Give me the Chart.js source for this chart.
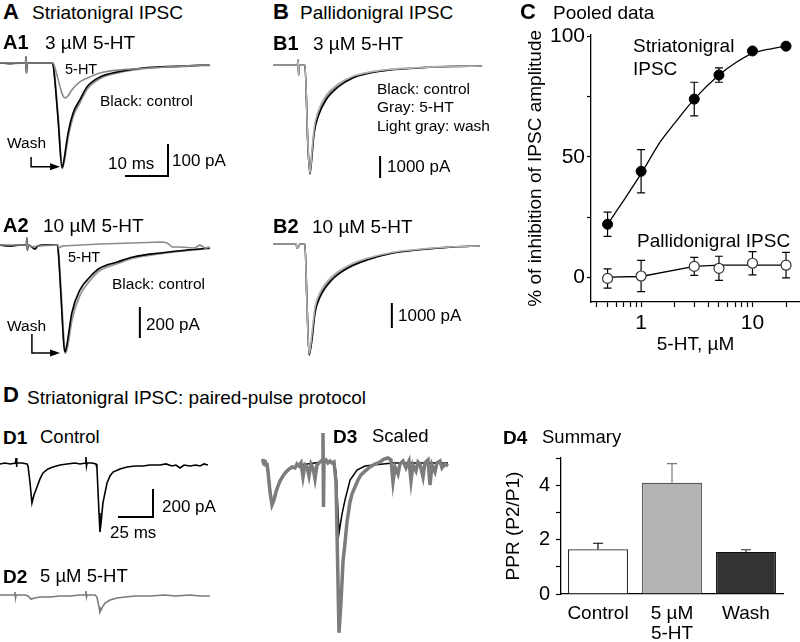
<!DOCTYPE html>
<html>
<head>
<meta charset="utf-8">
<script src="https://cdn.jsdelivr.net/npm/chart.js@4.4.1/dist/chart.umd.min.js"></script>
<style>
body { margin: 0; background: #fff; }
#fig { position: relative; width: 800px; height: 642px; overflow: hidden; font-family: "Liberation Sans", Arial, sans-serif; color: #000; }
#fig canvas { position: absolute; }
#fig .lbl { position: absolute; white-space: nowrap; line-height: 1; transform: translateY(-50%); }
</style>
</head>
<body>
<div id="fig"></div>
<script>
// ---- A: striatonigral IPSC traces (ms, pA) ----
const a1T    = [0, 2.4, 4.8, 6.1, 6.2, 6.3, 6.4, 9.5, 12.4, 12.7, 13.8, 14.8, 15.2, 16.2, 17.4, 19.0, 20.7, 23.8, 27.9, 34.0, 42.9, 50.0];
const a1Ctrl = [0, -2, 0, 0, 19, -32, 0, 0, 0, -10, -177, -339, -316, -226, -161, -119, -77, -45, -29, -16, -10, -6];
const a1Wash = [0, -1, 0, 0, 19, -32, 0, 0, 0, -8, -168, -336, -322, -240, -172, -128, -84, -50, -32, -18, -11, -7];
const a1HtT  = [0, 6.1, 6.2, 6.3, 6.4, 12.6, 13.3, 14.3, 15.0, 15.5, 16.2, 17.1, 19.0, 21.4, 23.8, 27.9, 35.7, 43.6, 50.0];
const a1Ht   = [0, 0, 19, -32, 0, 0, -26, -77, -106, -113, -106, -87, -61, -45, -32, -23, -16, -10, -6];

const a2T    = [0, 2.4, 4.8, 6.3, 6.4, 6.5, 6.7, 7.6, 8.3, 9.0, 10.7, 13.6, 13.8, 14.5, 15.2, 15.5, 16.0, 17.1, 19.0, 21.4, 23.8, 27.9, 31.7, 38.1, 44.5, 50.0];
const a2Ctrl = [0, -7, 0, 0, 48, -35, 0, -14, -28, -7, 0, 0, -21, -345, -690, -738, -676, -469, -311, -221, -159, -117, -83, -55, -35, -21];
const a2Wash = [0, -7, 0, 0, 48, -35, 0, -14, -28, -7, 0, 0, -14, -300, -660, -745, -712, -520, -348, -246, -176, -128, -90, -60, -38, -22];
const a2HtT  = [0, 6.3, 6.4, 6.5, 6.7, 7.6, 9.0, 13.8, 14.0, 14.8, 23.8, 38.8, 39.8, 41.0, 42.9, 46.4, 47.6, 48.8, 50.0];
const a2Ht   = [0, 0, 48, -35, 0, -14, -7, 0, -21, -7, 7, 21, 14, -14, -14, -21, 0, -21, -14];

// ---- B: pallidonigral IPSC traces ----
const b1T    = [0, 4.0, 5.8, 6.0, 6.1, 6.2, 7.4, 7.6, 8.3, 8.8, 9.3, 9.8, 10.7, 12.6, 15.5, 19.0, 23.1, 27.9, 34.3, 42.1, 49.8];
const b1Ctrl = [0, 0, 0, 250, -500, 0, 0, 0, -4000, -5450, -4500, -3400, -2600, -1750, -1100, -650, -400, -250, -150, -75, -50];
const b1Ht   = [0, 0, 0, 250, -500, 0, 0, 0, -3950, -5420, -4350, -3250, -2450, -1620, -1010, -600, -370, -230, -140, -70, -48];
const b1Wash = [0, 0, 0, 250, -500, 0, 0, 0, -3900, -5400, -4250, -3150, -2350, -1520, -950, -560, -350, -220, -135, -70, -48];

const b2T    = [0, 5.5, 5.7, 6.2, 6.4, 7.6, 8.1, 8.6, 9.3, 10.0, 11.2, 14.0, 18.3, 22.4, 28.6, 34.3, 42.9, 49.3];
const b2Ctrl = [0, 0, -174, -87, 0, 0, -2610, -4830, -4130, -3000, -2305, -1565, -1000, -696, -391, -261, -130, -87];
const b2Ht   = [0, 0, -174, -87, 0, 0, -2650, -4800, -3950, -2850, -2180, -1470, -940, -650, -370, -250, -125, -85];
const b2Wash = [0, 0, -174, -87, 0, 0, -2700, -4780, -3850, -2750, -2100, -1420, -900, -620, -355, -240, -120, -85];

// ---- C: pooled data ----
const conc     = [0.5, 1, 3, 5, 10, 20];
const striMean = [22, 44, 74, 84, 94, 96];
const striErr  = [5, 9, 7, 3, 1, 1];
const pallMean = [-0.5, 0.5, 4.5, 3.7, 5.8, 5];
const pallErr  = [4, 6.5, 3.7, 5, 4.8, 5.3];
const fitStriX = [0.5, 0.7, 1, 1.5, 2, 3, 5, 7, 10, 15, 20];
const fitStriY = [22, 32, 43, 56.5, 64, 74, 84, 89, 93, 95, 96];
const fitPallX = [0.5, 1, 3, 5, 10, 20];
const fitPallY = [0, 0.3, 4.5, 5, 5, 5];
const cTicksX  = [0.4, 0.5, 0.6, 0.7, 0.8, 0.9, 1, 2, 3, 4, 5, 6, 7, 8, 9, 10, 20];
const cLabelsX = [1, 10];
const cTicksY  = [0, 25, 50, 75, 100];
const cLabelsY = [0, 50, 100];

// ---- D: paired-pulse ----
const d1T    = [0, 3.7, 7.4, 11.4, 11.8, 12.1, 12.5, 16.2, 19.9, 20.6, 22.1, 23.5, 25.0, 27.2, 29.4, 31.6, 35.3, 39.0, 44.1, 49.3, 55.1, 58.8, 62.9, 63.2, 63.6, 64.0, 67.6, 70.6, 71.3, 72.8, 73.5, 74.3, 75.7, 78.7, 80.9, 83.1, 88.2, 93.4, 99.3, 105.1, 110.3, 117.6, 122.1, 126.5, 129.4, 132.4, 135.3, 139.7, 144.1, 147.1, 150.0, 152.9];
const d1Ctrl = [-7, 0, -7, 0, 37, -30, 0, 0, -7, -22, -148, -296, -237, -178, -118, -74, -44, -30, -15, -7, 0, -7, 0, 44, -22, 0, 0, -7, -37, -370, -511, -444, -296, -148, -96, -67, -44, -30, -22, -22, -15, -15, -7, -22, -15, -37, -15, -22, -15, -22, -7, -15];
const d2T    = [0, 5.9, 10.7, 11.0, 11.4, 11.8, 18.4, 20.6, 22.8, 25.7, 29.4, 36.8, 44.1, 51.5, 58.8, 62.9, 63.2, 63.6, 64.0, 69.9, 71.3, 72.8, 73.5, 75.0, 77.2, 80.9, 86.0, 91.9, 99.3, 110.3, 121.3, 128.7, 139.7, 147.1, 154.4];
const d2Ht   = [0, 0, 0, 22, -22, 0, 0, -7, -30, -22, -15, -15, -7, -7, 0, 0, 30, -15, 0, 0, -15, -89, -126, -96, -59, -37, -22, -15, -7, -7, 0, -7, 0, -7, -7];
const d3HtT  = [5.15, 5.88, 6.62, 7.35, 8.09, 8.82, 9.56, 11.03, 12.5, 13.97, 15.44, 16.91, 18.38, 20.59, 22.79, 25.0, 27.21, 29.41, 30.88, 32.35,
                33.82, 35.29, 36.76, 38.24, 39.71, 41.18, 42.65, 44.12, 45.59, 47.06, 48.53, 49.71, 50.0, 50.37, 50.74, 52.21, 53.68, 55.15, 56.62, 58.09,
                59.56, 61.76, 63.24, 64.71, 66.18, 67.65, 69.85, 71.32, 73.53, 75.74, 77.94, 80.88, 84.56, 88.24, 91.91, 94.85, 97.79, 100.0, 101.47, 102.94,
                105.15, 106.62, 108.82, 111.03, 113.24, 114.71, 116.18, 118.38, 119.85, 121.32, 123.53, 125.0, 127.21, 128.68, 130.15, 132.35, 133.82, 136.03, 137.5, 139.71, 141.91];
const d3Ht   = [0, 22, -15, 15, -22, -7, -74, -222, -318, -281, -222, -178, -141, -104, -74, -52, -37, -44, -15, -30,
                -7, -111, -22, -37, -104, -15, -44, -126, -22, -7, 7, 0, 215, -333, 0, 15, -7, 7, -7, 0,
                -148, -1265, -1036, -740, -599, -444, -296, -237, -185, -133, -96, -67, -37, -15, 0, 22, 30, 15, -148, -37,
                -89, -15, 7, -44, 7, -141, -22, -67, 0, -15, -111, -7, 15, -170, -22, -74, -7, 7, -44, -15, -30];
const d3CtrlT = [5.1, 9.6, 12.5, 15.4, 19.9, 25.7, 33.1, 49.3, 58.1, 59.6, 61.8, 64.0, 66.2, 69.9, 75.0, 80.9, 86.8, 101.5, 141.9];
const d3Ctrl  = [0, -44, -318, -207, -111, -52, -22, 0, 0, -74, -525, -385, -281, -133, -59, -30, -22, -7, -7];

const pprLabels = ['Control', ['5 µM', '5-HT'], 'Wash'];
const pprMean   = [1.65, 4.1, 1.55];
const pprErr    = [0.22, 0.7, 0.08];
const pprTicks  = [0, 1, 2, 3, 4, 5];
const pprLabelsY = [0, 2, 4];

const FONT = '"Liberation Sans", Arial, sans-serif';
Chart.defaults.font.family = FONT;
Chart.defaults.color = '#000';
Chart.defaults.animation = false;

const fig = document.getElementById('fig');

function addCanvas(left, top, w, h) {
  const c = document.createElement('canvas');
  c.width = w; c.height = h;
  c.style.left = left + 'px'; c.style.top = top + 'px';
  c.style.width = w + 'px'; c.style.height = h + 'px';
  fig.appendChild(c);
  return c;
}

function pts(xs, ys) { return xs.map((x, i) => ({ x: x, y: ys[i] })); }

// scale bars and the "Wash" arrow, placed in data units
function overlay(spec) {
  return {
    id: 'overlay',
    afterDatasetsDraw(chart) {
      const ctx = chart.ctx, sx = chart.scales.x, sy = chart.scales.y;
      const X = v => sx.getPixelForValue(v), Y = v => sy.getPixelForValue(v);
      ctx.save();
      ctx.strokeStyle = '#000'; ctx.fillStyle = '#000'; ctx.lineCap = 'square';
      (spec.lines || []).forEach(l => {
        ctx.lineWidth = 2;
        ctx.beginPath(); ctx.moveTo(X(l[0]), Y(l[1])); ctx.lineTo(X(l[2]), Y(l[3])); ctx.stroke();
      });
      if (spec.arrow) {
        const a = spec.arrow;
        const px = X(a[0]), py = Y(a[2]), tip = X(a[3]);
        ctx.lineWidth = 1.5; ctx.lineCap = 'butt';
        ctx.beginPath(); ctx.moveTo(px, Y(a[1])); ctx.lineTo(px, py); ctx.lineTo(tip - 8, py); ctx.stroke();
        ctx.beginPath(); ctx.moveTo(tip, py); ctx.lineTo(tip - 10, py - 3.5); ctx.lineTo(tip - 10, py + 3.5); ctx.closePath(); ctx.fill();
      }
      ctx.restore();
    }
  };
}

function traceChart(box, xr, yr, series, spec) {
  const cv = addCanvas(box[0], box[1], box[2], box[3]);
  return new Chart(cv, {
    type: 'line',
    data: {
      datasets: series.map(s => ({
        data: pts(s.t, s.v),
        borderColor: s.color,
        borderWidth: s.w,
        pointRadius: 0,
        cubicInterpolationMode: s.smooth ? 'monotone' : 'default',
        tension: 0,
        clip: false
      }))
    },
    options: {
      responsive: false,
      layout: { padding: 0, autoPadding: false },
      plugins: { legend: { display: false }, tooltip: { enabled: false } },
      scales: {
        x: { type: 'linear', display: false, min: xr[0], max: xr[1] },
        y: { type: 'linear', display: false, min: yr[0], max: yr[1] }
      }
    },
    plugins: [overlay(spec || {})]
  });
}

// A1 (first dataset is drawn on top)
traceChart([0, 50, 240, 135], [0, 57.14], [-393.5, 41.9], [
  { t: a1HtT, v: a1Ht, color: '#8a8a8a', w: 1.6, smooth: true },
  { t: a1T, v: a1Ctrl, color: '#000', w: 1.6, smooth: true },
  { t: a1T, v: a1Wash, color: '#8f8f8f', w: 2, smooth: true }
], { lines: [[30, -364.5, 40, -364.5], [40, -364.5, 40, -264.5]], arrow: [7.4, -303, -335, 14.3] });

// A2
traceChart([0, 230, 240, 130], [0, 57.14], [-793.1, 103.4], [
  { t: a2HtT, v: a2Ht, color: '#8a8a8a', w: 1.6, smooth: false },
  { t: a2T, v: a2Ctrl, color: '#000', w: 1.6, smooth: true },
  { t: a2T, v: a2Wash, color: '#9a9a9a', w: 2, smooth: true }
], { lines: [[33.3, -634.5, 33.3, -434.5]], arrow: [7.6, -614, -745, 14.3] });

// B1
traceChart([265, 50, 220, 135], [-1.905, 50.48], [-6000, 750], [
  { t: b1T, v: b1Wash, color: '#b4b4b4', w: 1.6, smooth: true },
  { t: b1T, v: b1Ctrl, color: '#000', w: 1.6, smooth: true },
  { t: b1T, v: b1Ht, color: '#808080', w: 1.6, smooth: true }
], { lines: [[25.5, -5600, 25.5, -4600]] });

// B2
traceChart([265, 230, 220, 135], [-1.905, 50.48], [-5260.9, 608.7], [
  { t: b2T, v: b2Wash, color: '#b4b4b4', w: 1.6, smooth: true },
  { t: b2T, v: b2Ctrl, color: '#000', w: 1.6, smooth: true },
  { t: b2T, v: b2Ht, color: '#808080', w: 1.6, smooth: true }
], { lines: [[28.3, -3609, 28.3, -2609]] });

// D1, D2, D3
traceChart([0, 450, 215, 90], [0, 158.1], [-570.4, 96.3], [
  { t: d1T, v: d1Ctrl, color: '#000', w: 1.6, smooth: false }
], { lines: [[87.5, -400, 112.5, -400], [112.5, -400, 112.5, -200]] });

traceChart([0, 585, 215, 40], [0, 158.1], [-222.2, 74.1], [
  { t: d2T, v: d2Ht, color: '#7a7a7a', w: 1.6, smooth: false }
]);

traceChart([255, 425, 200, 217], [0, 147.06], [-1333.3, 274.1], [
  { t: d3HtT, v: d3Ht, color: '#7c7c7c', w: 3.5, smooth: false },
  { t: d3CtrlT, v: d3Ctrl, color: '#000', w: 1.5, smooth: false }
]);

// C: pooled dose-response
const cvC = addCanvas(520, 20, 280, 345);
new Chart(cvC, {
  type: 'line',
  data: {
    datasets: [
      { data: pts(conc, striMean), showLine: false, pointRadius: 5, pointBackgroundColor: '#000', pointBorderColor: '#000' },
      { data: pts(conc, pallMean), showLine: false, pointRadius: 5, pointBackgroundColor: '#fff', pointBorderColor: '#333', pointBorderWidth: 1.2 },
      { data: pts(fitStriX, fitStriY), borderColor: '#000', borderWidth: 1.3, pointRadius: 0, cubicInterpolationMode: 'monotone' },
      { data: pts(fitPallX, fitPallY), borderColor: '#000', borderWidth: 1.3, pointRadius: 0 }
    ]
  },
  options: {
    responsive: false,
    layout: { padding: { top: 13, right: 0, left: 0, bottom: 0 }, autoPadding: false },
    plugins: { legend: { display: false }, tooltip: { enabled: false } },
    scales: {
      x: {
        type: 'logarithmic', min: 0.355, max: 26.7,
        afterBuildTicks: s => { s.ticks = cTicksX.map(v => ({ value: v })); },
        afterFit: s => { s.height = 63; },
        grid: { drawOnChartArea: false, tickLength: 5, tickColor: '#000', tickWidth: 1.2 },
        border: { color: '#000', width: 1.3 },
        ticks: { autoSkip: false, maxRotation: 0, padding: 4, font: { size: 21 },
                 callback: v => cLabelsX.includes(v) ? String(v) : '' },
        title: { display: true, text: '5-HT, µM', font: { size: 19 }, padding: { top: 0, bottom: 9 } }
      },
      y: {
        min: -10.3, max: 100.8,
        afterBuildTicks: s => { s.ticks = cTicksY.map(v => ({ value: v })); },
        afterFit: s => { s.width = 71; },
        grid: { drawOnChartArea: false, tickLength: 4, tickColor: '#000', tickWidth: 1.2 },
        border: { color: '#000', width: 1.3 },
        ticks: { padding: 2, font: { size: 21 },
                 callback: v => cLabelsY.includes(v) ? String(v) : '' },
        title: { display: true, text: '% of inhibition of IPSC amplitude', font: { size: 19 }, padding: { top: 4, bottom: 0 } }
      }
    }
  },
  plugins: [{
    id: 'errC',
    beforeDatasetsDraw(chart) {
      const ctx = chart.ctx, sx = chart.scales.x, sy = chart.scales.y;
      ctx.save();
      ctx.strokeStyle = '#000'; ctx.lineWidth = 1.2;
      [[striMean, striErr], [pallMean, pallErr]].forEach(([m, e]) => {
        conc.forEach((c, i) => {
          const px = sx.getPixelForValue(c);
          const t = sy.getPixelForValue(m[i] + e[i]), b = sy.getPixelForValue(m[i] - e[i]);
          ctx.beginPath();
          ctx.moveTo(px, t); ctx.lineTo(px, b);
          ctx.moveTo(px - 4, t); ctx.lineTo(px + 4, t);
          ctx.moveTo(px - 4, b); ctx.lineTo(px + 4, b);
          ctx.stroke();
        });
      });
      ctx.restore();
    }
  }]
});

// D4: summary bars
const cvD4 = addCanvas(500, 440, 300, 202);
new Chart(cvD4, {
  type: 'bar',
  data: {
    labels: pprLabels,
    datasets: [{
      data: pprMean,
      backgroundColor: ['#ffffff', '#b3b3b3', '#333333'],
      borderColor: ['#222', '#555', '#111'],
      borderWidth: 1.2,
      barPercentage: 0.81,
      categoryPercentage: 1
    }]
  },
  options: {
    responsive: false,
    layout: { padding: { top: 15, right: 17, left: 0, bottom: 0 }, autoPadding: false },
    plugins: { legend: { display: false }, tooltip: { enabled: false } },
    scales: {
      x: {
        afterFit: s => { s.height = 48; },
        grid: { display: false, drawTicks: false },
        border: { display: true, color: '#000', width: 1.3 },
        ticks: { padding: 10, maxRotation: 0, font: { size: 19, lineHeight: 1.05 } }
      },
      y: {
        min: 0, max: 5.01,
        afterBuildTicks: s => { s.ticks = pprTicks.map(v => ({ value: v })); },
        afterFit: s => { s.width = 61; },
        grid: { drawOnChartArea: false, tickLength: 5, tickColor: '#000', tickWidth: 1.2 },
        border: { color: '#000', width: 1.3 },
        ticks: { padding: 6, font: { size: 20 },
                 callback: v => pprLabelsY.includes(v) ? String(v) : '' },
        title: { display: true, text: 'PPR (P2/P1)', font: { size: 19 }, padding: { top: 2, bottom: 0 } }
      }
    }
  },
  plugins: [{
    id: 'errD',
    afterDatasetsDraw(chart) {
      const ctx = chart.ctx, sy = chart.scales.y;
      const bars = chart.getDatasetMeta(0).data;
      const cols = ['#000', '#777', '#333'];
      ctx.save(); ctx.lineWidth = 1.2;
      bars.forEach((el, i) => {
        const t = sy.getPixelForValue(pprMean[i] + pprErr[i]);
        ctx.strokeStyle = cols[i];
        ctx.beginPath();
        ctx.moveTo(el.x, el.y); ctx.lineTo(el.x, t);
        ctx.moveTo(el.x - 5, t); ctx.lineTo(el.x + 5, t);
        ctx.stroke();
      });
      ctx.restore();
    }
  }]
});

// ---- text labels ----
const texts = [
  ['A', 3, 12, 22, true], ['Striatonigral IPSC', 32, 12, 19],
  ['A1', 3, 42, 20, true], ['3 µM 5-HT', 45, 42, 19],
  ['5-HT', 65, 69, 14.5], ['Black: control', 100, 101, 15.5], ['Wash', 7, 143, 15.5],
  ['10 ms', 108, 163, 17], ['100 pA', 172, 160, 17],
  ['A2', 3, 225, 20, true], ['10 µM 5-HT', 43, 225, 19],
  ['5-HT', 68, 257, 14.5], ['Black: control', 112, 284, 15.5], ['Wash', 7, 326, 15.5],
  ['200 pA', 146, 324, 17],
  ['B', 273, 12, 22, true], ['Pallidonigral IPSC', 300, 12, 19],
  ['B1', 273, 43, 20, true], ['3 µM 5-HT', 313, 43, 19],
  ['Black: control', 377, 89, 15.5], ['Gray: 5-HT', 377, 107, 15.5], ['Light gray: wash', 377, 126, 15.5],
  ['1000 pA', 387, 166, 17],
  ['B2', 273, 226, 20, true], ['10 µM 5-HT', 312, 226, 19],
  ['1000 pA', 398, 315, 17],
  ['C', 520, 12, 22, true], ['Pooled data', 553, 12, 19],
  ['Striatonigral', 633, 45, 19], ['IPSC', 633, 68, 19], ['Pallidonigral IPSC', 637, 240, 19],
  ['D', 3, 395, 22, true], ['Striatonigral IPSC: paired-pulse protocol', 27, 397, 19],
  ['D1', 3, 437, 19, true], ['Control', 40, 437, 18.5],
  ['200 pA', 162, 506, 17], ['25 ms', 110, 532, 17],
  ['D2', 3, 576, 19, true], ['5 µM 5-HT', 40, 576, 18.5],
  ['D3', 333, 436, 19, true], ['Scaled', 372, 436, 18.5],
  ['D4', 503, 437, 19, true], ['Summary', 542, 437, 18.5]
];
texts.forEach(([s, x, y, size, bold]) => {
  const d = document.createElement('div');
  d.className = 'lbl';
  d.textContent = s;
  d.style.left = x + 'px';
  d.style.top = y + 'px';
  d.style.fontSize = size + 'px';
  if (bold) d.style.fontWeight = 'bold';
  fig.appendChild(d);
});
</script>
</body>
</html>
